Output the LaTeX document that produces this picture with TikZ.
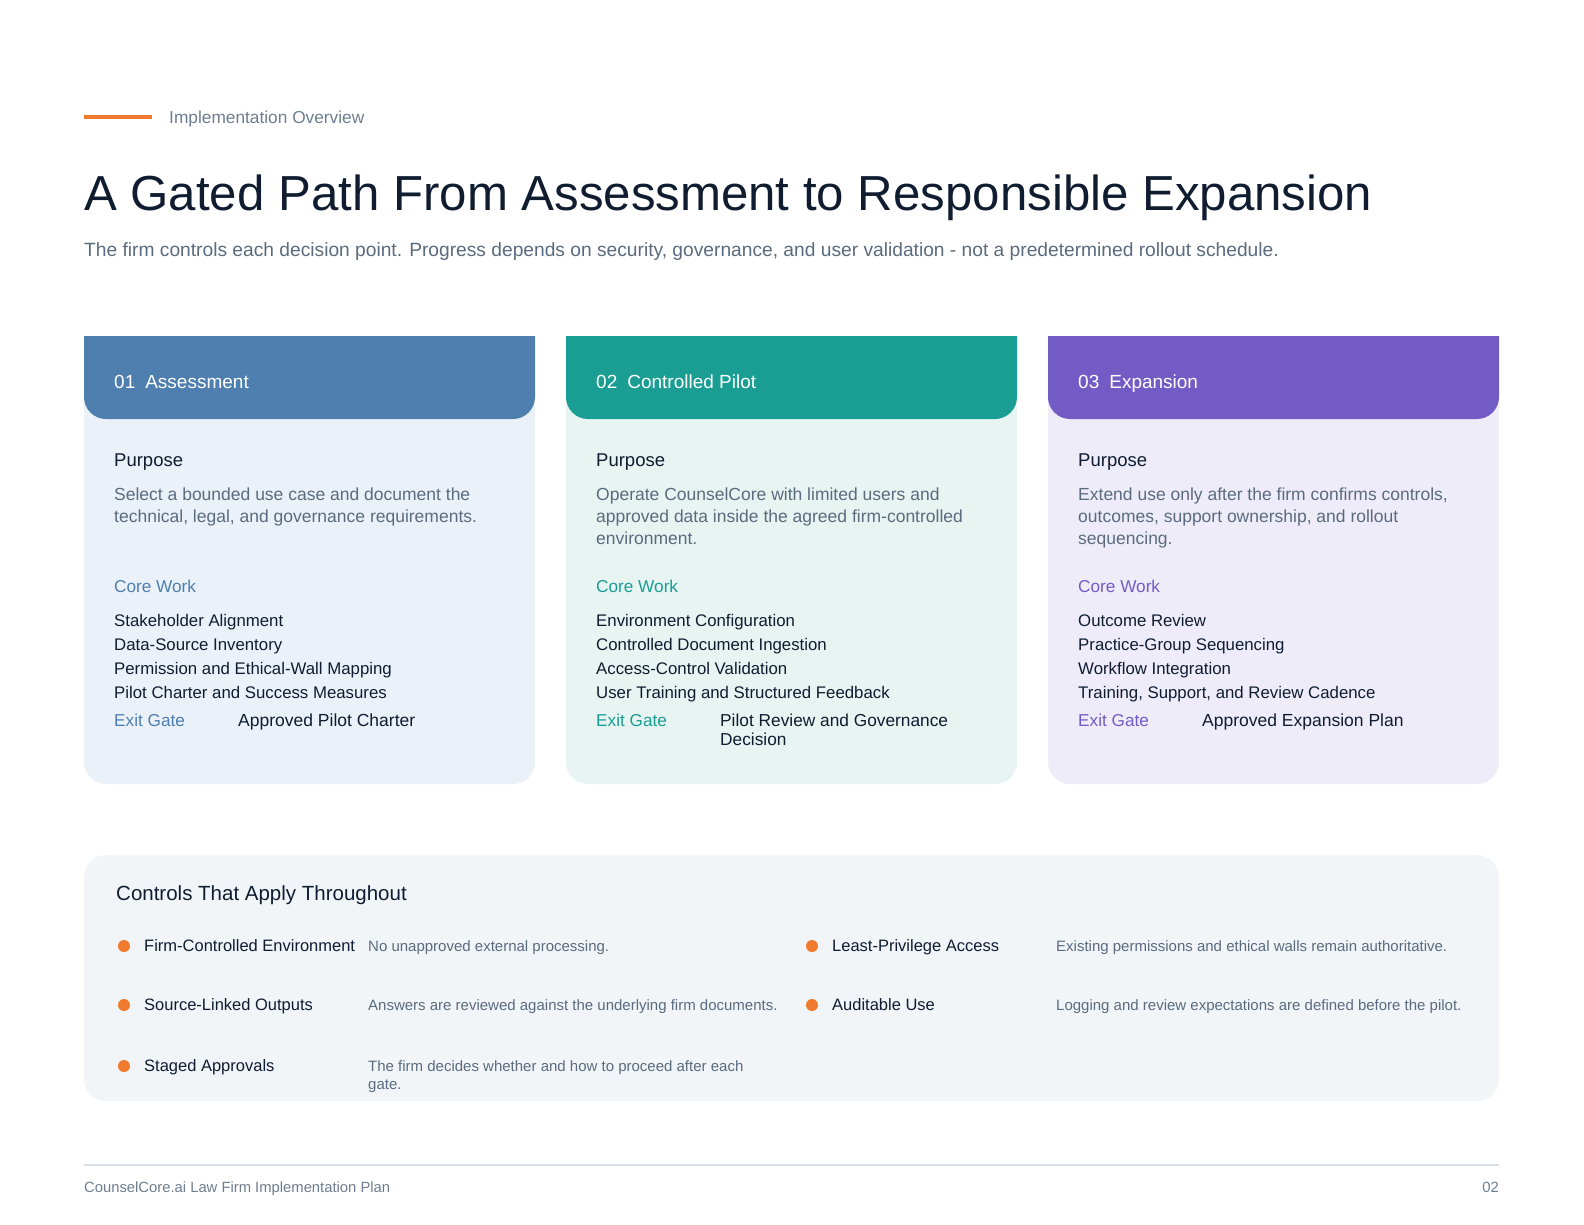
\documentclass[tikz,border=0pt]{standalone}
\usepackage{fontspec}
\setmainfont{Liberation Sans}
\usepackage{tikz}
\usetikzlibrary{calc}

\definecolor{ink}{HTML}{101C30}
\definecolor{slate}{HTML}{5B6B7E}
\definecolor{mute}{HTML}{6E7D8E}
\definecolor{rule}{HTML}{D6DFE7}
\definecolor{accent}{HTML}{F07A2E}
\definecolor{blueA}{HTML}{4E7FAF}
\definecolor{blueL}{HTML}{EAF1F8}
\definecolor{tealA}{HTML}{1A9E94}
\definecolor{tealL}{HTML}{E7F4F2}
\definecolor{purpA}{HTML}{735BC6}
\definecolor{purpL}{HTML}{EFECF9}
\definecolor{panel}{HTML}{F1F5F8}

\newcommand{\fs}[2]{\fontsize{#1}{#2}\selectfont}

\begin{document}
\begin{tikzpicture}[x=1pt,y=-1pt,
		txt/.style={inner sep=0pt,anchor=base west,align=left},
		hdtxt/.style={txt,white,font=\fs{19}{22}},
		purp/.style={txt,ink,font=\fs{18.5}{22}},
		purptxt/.style={txt,slate,font=\fs{17.5}{22}},
		label/.style={txt,font=\fs{17.2}{20}},
		work/.style={txt,ink,font=\fs{16.8}{24}},
		ctrl/.style={txt,ink,font=\fs{16.5}{18}},
		ctrldesc/.style={txt,slate,font=\fs{15}{18}},
		dot/.style={circle,fill=accent,inner sep=0pt,minimum size=12pt}]
		\useasboundingbox (0,0) rectangle (1584,1224);
		
		% heading
		\fill[accent] (84,115) rectangle (152,119);
		\node (kicker) at (169,123) [txt,mute,font=\fs{17.3}{20}] {Implementation Overview};
		\node (title) at (84,210) [txt,ink,font=\fs{49.2}{56}] {A Gated Path From Assessment to Responsible Expansion};
		\node (sub) at (84,256) [txt,slate,font=\fs{19.2}{22}] {The firm controls each decision point. Progress depends on security, governance, and user validation - not a predetermined rollout schedule.};
		
		%Tarjetas
		\fill[blueL] (84,336) -- (535,336) [rounded corners=22] -- (535,784) -- (84,784) [sharp corners] -- cycle;
		\fill[blueA] (84,336) -- (535,336) [rounded corners=22] -- (535,419) -- (84,419) [sharp corners] -- cycle;
		\fill[tealL] (566,336) -- (1017,336) [rounded corners=22] -- (1017,784) -- (566,784) [sharp corners] -- cycle;
		\fill[tealA] (566,336) -- (1017,336) [rounded corners=22] -- (1017,419) -- (566,419) [sharp corners] -- cycle;
		\fill[purpL] (1048,336) -- (1499,336) [rounded corners=22] -- (1499,784) -- (1048,784) [sharp corners] -- cycle;
		\fill[purpA] (1048,336) -- (1499,336) [rounded corners=22] -- (1499,419) -- (1048,419) [sharp corners] -- cycle;
		
		% card 1 (multi-line nodes sit on their last baseline)
		\node (h1) at (114,388) [hdtxt] {01\hspace{10pt}Assessment};
		\node (p1) at (114,466) [purp] {Purpose};
		\node (pt1) at (114,522) [purptxt] {Select a bounded use case and document the\\technical, legal, and governance requirements.};
		\node (cw1) at (114,592) [label,blueA] {Core Work};
		\node (w1) at (114,698) [work] {Stakeholder Alignment\\Data-Source Inventory\\Permission and Ethical-Wall Mapping\\Pilot Charter and Success Measures};
		\node (eg1) at (114,726) [label,blueA] {Exit Gate};
		\node (ev1) at (238,726) [label,ink,font=\fs{17.5}{20}] {Approved Pilot Charter};
		
		% card 2
		\node (h2) at (596,388) [hdtxt] {02\hspace{10pt}Controlled Pilot};
		\node (p2) at (596,466) [purp] {Purpose};
		\node (pt2) at (596,544) [purptxt] {Operate CounselCore with limited users and\\approved data inside the agreed firm-controlled\\environment.};
		\node (cw2) at (596,592) [label,tealA] {Core Work};
		\node (w2) at (596,698) [work] {Environment Configuration\\Controlled Document Ingestion\\Access-Control Validation\\User Training and Structured Feedback};
		\node (eg2) at (596,726) [label,tealA] {Exit Gate};
		\node (ev2) at (720,745) [label,ink,font=\fs{17.3}{19}] {Pilot Review and Governance\\Decision};
		
		% card 3
		\node (h3) at (1078,388) [hdtxt] {03\hspace{10pt}Expansion};
		\node (p3) at (1078,466) [purp] {Purpose};
		\node (pt3) at (1078,544) [purptxt] {Extend use only after the firm confirms controls,\\outcomes, support ownership, and rollout\\sequencing.};
		\node (cw3) at (1078,592) [label,purpA] {Core Work};
		\node (w3) at (1078,698) [work] {Outcome Review\\Practice-Group Sequencing\\Workflow Integration\\Training, Support, and Review Cadence};
		\node (eg3) at (1078,726) [label,purpA] {Exit Gate};
		\node (ev3) at (1202,726) [label,ink,font=\fs{17.5}{20}] {Approved Expansion Plan};
		
		% controls panel
		\fill[panel,rounded corners=22] (84,855) rectangle (1499,1101);
		\node (ctitle) at (116,900) [txt,ink,font=\fs{20.5}{22}] {Controls That Apply Throughout};
		
		\node (d1) at (124,946) [dot] {};
		\node (c1) at (144,951) [ctrl] {Firm-Controlled Environment};
		\node (e1) at (368,951) [ctrldesc] {No unapproved external processing.};
		\node (d2) at (124,1005) [dot] {};
		\node (c2) at (144,1010) [ctrl] {Source-Linked Outputs};
		\node (e2) at (368,1010) [ctrldesc] {Answers are reviewed against the underlying firm documents.};
		\node (d3) at (124,1066) [dot] {};
		\node (c3) at (144,1071) [ctrl] {Staged Approvals};
		\node (e3) at (368,1089) [ctrldesc] {The firm decides whether and how to proceed after each\\gate.};
		\node (d4) at (812,946) [dot] {};
		\node (c4) at (832,951) [ctrl] {Least-Privilege Access};
		\node (e4) at (1056,951) [ctrldesc] {Existing permissions and ethical walls remain authoritative.};
		\node (d5) at (812,1005) [dot] {};
		\node (c5) at (832,1010) [ctrl] {Auditable Use};
		\node (e5) at (1056,1010) [ctrldesc] {Logging and review expectations are defined before the pilot.};
		
		% footer
		\coordinate (fl) at (84,1165);
		\coordinate (fr) at (1499,1165);
		\draw[rule,line width=1.2pt] (fl) -- (fr);
		\node (foot) at (84,1192) [txt,mute,font=\fs{14.8}{17}] {CounselCore.ai Law Firm Implementation Plan};
		\node (page) at (1499,1192) [inner sep=0pt,anchor=base east,mute,font=\fs{14.8}{17}] {02};
	\end{tikzpicture}
\end{document}
